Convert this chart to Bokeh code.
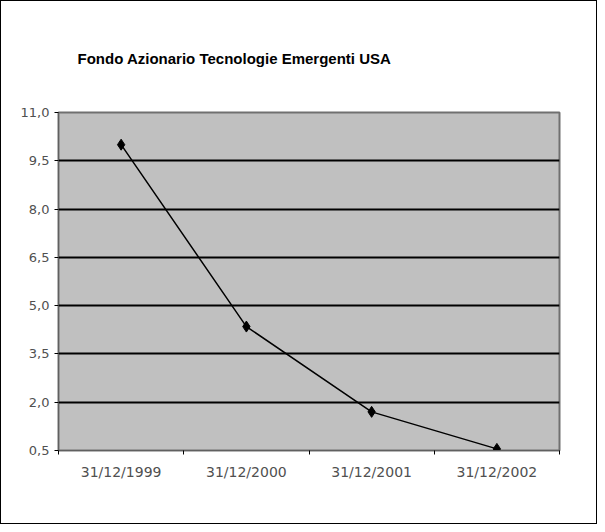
from bokeh.plotting import figure
from bokeh.models import FixedTicker, Range1d, ColumnDataSource
from bokeh.embed import file_html
from bokeh.resources import INLINE

title_text = "Fondo Azionario Tecnologie Emergenti USA"
dates = ["31/12/1999", "31/12/2000", "31/12/2001", "31/12/2002"]
values = [10.0, 4.35, 1.7, 0.55]
y_ticks = [0.5, 2.0, 3.5, 5.0, 6.5, 8.0, 9.5, 11.0]

xs = [i + 0.5 for i in range(len(dates))]
src = ColumnDataSource(dict(x=xs, y=values))

p = figure(width=597, height=524, output_backend="svg", toolbar_location=None,
           x_range=Range1d(0, len(dates)), y_range=Range1d(y_ticks[0], y_ticks[-1]),
           min_border_left=57, min_border_right=39, min_border_top=111, min_border_bottom=75)
p.styles = {"border": "1px solid #000000", "box-sizing": "border-box"}

p.title.text = title_text
p.title.align = "left"
p.title.offset = 19
p.title.standoff = 91
p.title.text_font = "Liberation Sans"
p.title.text_font_size = "15px"
p.title.text_font_style = "bold"
p.title.text_color = "#000000"

p.background_fill_color = "#c0c0c0"
p.border_fill_color = "#ffffff"
p.outline_line_color = "#707070"
p.outline_line_width = 2

p.xgrid.visible = False
p.ygrid.ticker = FixedTicker(ticks=y_ticks)
p.ygrid.grid_line_color = "#000000"
p.ygrid.grid_line_width = 2

p.xaxis.ticker = FixedTicker(ticks=xs, minor_ticks=list(range(len(dates) + 1)))
p.xaxis.major_label_overrides = {x: d for x, d in zip(xs, dates)}
p.xaxis.major_tick_line_color = None
p.xaxis.minor_tick_line_color = "#000000"
p.xaxis.minor_tick_out = 4
p.xaxis.minor_tick_in = 0
p.xaxis.axis_line_color = "#606060"
p.xaxis.major_label_standoff = 7
p.xaxis.major_label_text_font_size = "14px"

p.yaxis.ticker = FixedTicker(ticks=y_ticks)
p.yaxis.major_label_overrides = {t: f"{t:.1f}".replace(".", ",") for t in y_ticks}
p.yaxis.major_tick_out = 4
p.yaxis.major_tick_in = 0
p.yaxis.minor_tick_line_color = None
p.yaxis.axis_line_color = "#606060"
p.yaxis.major_label_text_font_size = "13px"

for ax in (p.xaxis, p.yaxis):
    ax.major_label_text_font = "DejaVu Sans"
    ax.major_label_text_color = "#505050"

p.line("x", "y", source=src, line_color="#000000", line_width=1.5)
p.scatter("x", "y", source=src, marker="diamond", size=11, fill_color="#000000", line_color="#000000")

open("out.html", "w").write(file_html(p, INLINE))
